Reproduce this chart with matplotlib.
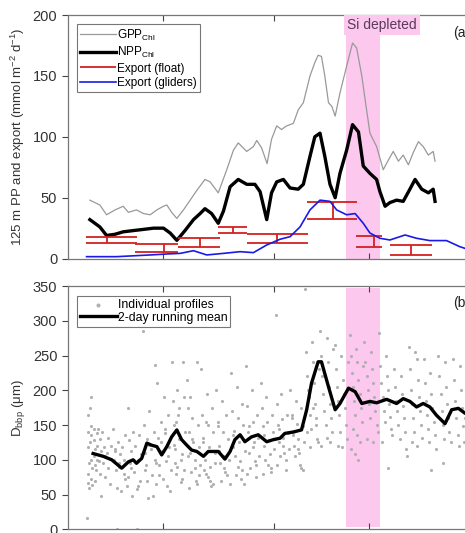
import matplotlib
matplotlib.use('Agg')
import matplotlib.pyplot as plt

plt.rcParams['font.family'] = ['Liberation Sans', 'DejaVu Sans']
plt.rcParams['mathtext.fontset'] = 'custom'
plt.rcParams['mathtext.rm'] = 'Liberation Sans'
plt.rcParams['mathtext.it'] = 'Liberation Sans:italic'

# panel (a): primary production and export, x in days
gpp_day = [6.0, 8.7, 10.5, 12.8, 15.0, 16.4, 18.6, 20.5, 22.3, 24.1, 25.9, 26.8, 28.1, 29.5,
           31.3, 33.1, 34.9, 37.1, 38.5, 40.7, 43.0, 44.8, 46.1, 48.4, 50.2, 51.1, 52.4,
           53.9, 55.1, 56.5, 57.8, 59.2, 61.0, 62.3, 63.7, 65.5, 66.8, 67.7, 68.6, 69.5,
           70.5, 71.4, 72.3, 73.6, 75.4, 77.0, 78.1, 79.5, 80.8, 81.7, 83.5, 85.3, 86.7,
           88.0, 89.4, 90.7, 92.1, 93.4, 94.8, 96.1, 97.5, 98.8, 99.3]
gpp_val = [48, 44, 36, 40, 43, 38, 40, 37, 36, 40, 43, 44, 38, 33,
           40, 48, 56, 65, 63, 54, 73, 89, 95, 88, 92, 97, 91,
           78, 98, 109, 106, 109, 111, 122, 128, 150, 161, 167, 166, 150,
           128, 125, 117, 136, 158, 177, 173, 150, 122, 103, 92, 73, 81,
           88, 80, 85, 77, 87, 96, 92, 85, 88, 80]

npp_day = [6.0, 8.7, 10.5, 12.8, 15.0, 17.7, 20.5, 23.2, 25.9, 27.7, 29.5, 31.7, 34.0,
           35.8, 37.1, 38.9, 40.7, 42.1, 43.9, 46.1, 48.4, 50.6, 52.0, 53.8, 55.1, 56.5,
           58.3, 60.1, 62.3, 63.7, 65.5, 66.8, 68.2, 69.5, 70.9, 72.3, 73.6, 75.4, 77.0,
           78.6, 79.9, 81.7, 83.5, 84.4, 85.8, 87.1, 88.9, 90.7, 92.5, 93.9, 95.7, 97.5,
           98.8, 99.3]
npp_val = [32, 26, 19, 20, 22, 23, 24, 25, 25, 21, 15, 23, 32,
           37, 41, 37, 29, 39, 59, 65, 61, 61, 55, 32, 54, 63,
           65, 58, 57, 61, 84, 100, 103, 84, 61, 50, 70, 89, 110,
           104, 76, 70, 65, 55, 43, 46, 48, 47, 57, 65, 57, 54,
           57, 47]

glider_day = [5.1, 13.2, 22.3, 26.8, 30.4, 34.0, 37.6, 42.1, 46.6, 50.2, 53.8, 57.4, 60.1,
              62.8, 65.5, 68.2, 70.9, 72.7, 75.4, 77.7, 79.9, 81.7, 84.4, 87.1, 91.2, 94.3,
              97.9, 102.4, 106.0, 107.4, 109.6]
glider_val = [1.6, 1.6, 3.0, 3.8, 4.3, 6.5, 3.0, 4.3, 5.7, 4.9, 11.2, 15.9, 18.0,
              26, 40, 48, 47, 40, 36, 37, 29, 21, 16.7, 15.3, 19.4, 16.7,
              14.8, 14.8, 9.8, 8.4, 7.0]

# float export: time window, low and high estimate
float_start = [5.0, 18.2, 29.9, 40.7, 48.4, 64.6, 77.9, 87.1]
float_end = [18.6, 29.9, 41.2, 48.4, 65.0, 78.1, 84.9, 98.4]
float_low = [12.6, 5.7, 9.8, 21.3, 12.6, 32.3, 9.8, 2.9]
float_high = [17.4, 11.7, 17.1, 26.3, 20.2, 46.8, 18.6, 11.2]
float_mid = [10.5, 25.9, 35.8, 44.8, 56.5, 71.8, 82.8, 92.7]

si_start, si_end = 75.1, 84.4

# panel (b): particle size
mean_day = [6.9, 9.6, 11.9, 14.6, 16.4, 17.7, 18.6, 20.0, 21.4, 22.7, 24.1, 25.4, 26.8,
            28.1, 29.5, 30.8, 32.2, 33.5, 34.9, 36.7, 38.0, 40.7, 42.5, 43.9, 45.2, 46.6,
            47.9, 49.7, 51.5, 53.8, 55.6, 57.4, 58.7, 61.0, 63.2, 64.6, 65.9, 67.7, 68.6,
            70.5, 72.3, 73.6, 75.9, 77.7, 79.5, 81.7, 83.5, 86.2, 88.9, 90.7, 92.5, 94.3,
            96.1, 97.9, 99.7, 102.0, 103.8, 105.6, 107.4, 109.6]
mean_val = [109, 105, 100, 88, 97, 100, 95, 102, 124, 121, 119, 107, 119,
            133, 143, 129, 121, 114, 112, 105, 112, 112, 101, 112, 129, 136,
            126, 133, 136, 126, 129, 131, 138, 140, 143, 172, 210, 241, 241,
            205, 172, 181, 203, 198, 181, 184, 182, 187, 181, 188, 184, 176,
            181, 176, 164, 152, 172, 174, 167, 165]

profiles = [
    (5.3, 16), (5.5, 165), (5.6, 140), (5.4, 118), (5.7, 95), (5.5, 80), (5.6, 66), (5.8, 60),
    (6.2, 190), (6.0, 174), (6.4, 148), (6.3, 135), (6.1, 125), (6.5, 110), (6.2, 100),
    (6.6, 88), (6.4, 72), (6.7, 64), (7.0, 145), (7.2, 128), (7.4, 115), (7.1, 105), (7.5, 92),
    (7.3, 70), (7.8, 138), (7.9, 120), (8.0, 100), (7.7, 85),
    (8.3, 145), (8.6, 130), (8.9, 112), (8.5, 98), (8.8, 80), (9.1, 48), (9.4, 140), (9.7, 118),
    (10.0, 105), (9.6, 95), (10.2, 75), (10.5, 110), (10.8, 132), (11.0, 88), (11.3, 65), (11.6, 120),
    (12.2, 145), (12.5, 100), (12.8, 115), (13.0, 85), (13.3, 60), (13.6, 125), (13.9, 95),
    (14.2, 108), (14.5, 55), (14.8, 118), (15.1, 80), (15.4, 72), (15.6, 135), (15.9, 62),
    (15.2, 100), (14.0, 90), (12.9, 112), (13.3, 1),
    (16.2, 175), (16.5, 128), (16.8, 95), (17.1, 112), (17.4, 48), (17.7, 140), (18.0, 82),
    (18.3, 120), (18.6, 58), (18.9, 100), (19.2, 135), (19.5, 70), (19.8, 108), (17.0, 88),
    (16.4, 75), (19.0, 62), (18.7, 1),
    (20.3, 285), (20.6, 150), (20.9, 110), (21.2, 92), (21.5, 130), (21.8, 45), (22.1, 170),
    (22.4, 115), (22.7, 78), (23.0, 48), (23.3, 140), (23.6, 100), (23.9, 65), (22.0, 122),
    (20.8, 85), (23.5, 236), (21.4, 70), (23.8, 95),
    (24.2, 210), (24.5, 132), (24.8, 92), (25.1, 155), (25.4, 112), (25.7, 72), (26.0, 190),
    (26.3, 138), (26.6, 98), (26.9, 62), (27.2, 165), (27.5, 118), (27.8, 85), (26.4, 145),
    (25.2, 125), (27.0, 105), (24.7, 78), (27.6, 55),
    (28.1, 240), (28.4, 185), (28.7, 150), (29.0, 115), (29.3, 80), (29.6, 200), (29.9, 165),
    (30.2, 130), (30.5, 100), (30.8, 72), (31.1, 240), (31.4, 190), (31.7, 140), (31.0, 108),
    (28.6, 122), (29.5, 90), (30.0, 175), (31.5, 85), (29.2, 155), (30.6, 68), (28.9, 95),
    (32.2, 215), (32.5, 175), (32.8, 140), (33.1, 110), (33.4, 82), (33.7, 160), (34.0, 125),
    (34.3, 100), (34.6, 70), (34.9, 240), (35.2, 150), (35.5, 118), (35.8, 92), (33.0, 190),
    (34.4, 88), (35.0, 65), (32.6, 105), (35.6, 78), (33.5, 130), (32.9, 60),
    (36.1, 230), (36.4, 165), (36.7, 132), (37.0, 100), (37.3, 80), (37.6, 195), (37.9, 150),
    (38.2, 118), (38.5, 90), (38.8, 62), (39.1, 175), (39.4, 140), (39.7, 110), (36.9, 85),
    (38.0, 75), (39.3, 65), (36.5, 125), (39.8, 95), (37.4, 155), (38.6, 70),
    (40.2, 200), (40.5, 155), (40.8, 120), (41.1, 95), (41.4, 70), (41.7, 185), (42.0, 140),
    (42.3, 105), (42.6, 82), (42.9, 165), (43.2, 130), (43.5, 100), (43.8, 65), (41.0, 112),
    (42.2, 88), (43.0, 78), (40.6, 148),
    (44.2, 225), (44.5, 170), (44.8, 135), (45.1, 105), (45.4, 78), (45.7, 205), (46.0, 160),
    (46.3, 125), (46.6, 98), (46.9, 72), (47.2, 180), (47.5, 150), (47.8, 112), (45.0, 142),
    (46.1, 90), (47.0, 85), (44.6, 118), (47.6, 65),
    (48.2, 235), (48.5, 178), (48.8, 140), (49.1, 110), (49.4, 88), (49.7, 200), (50.0, 155),
    (50.3, 125), (50.6, 98), (50.9, 75), (51.2, 165), (51.5, 132), (51.8, 105), (49.0, 148),
    (50.2, 118), (51.0, 92), (48.6, 80),
    (52.2, 210), (52.5, 175), (52.8, 148), (53.1, 120), (53.4, 100), (53.7, 190), (54.0, 155),
    (54.3, 128), (54.6, 108), (54.9, 88), (55.2, 165), (55.5, 140), (55.8, 115), (53.0, 135),
    (54.2, 92), (55.0, 82), (52.7, 80),
    (56.2, 308), (56.5, 180), (56.8, 150), (57.1, 125), (57.4, 105), (57.7, 195), (58.0, 158),
    (58.3, 132), (58.6, 110), (58.9, 85), (59.2, 165), (59.5, 138), (59.8, 115), (57.0, 145),
    (58.2, 120), (59.0, 100), (56.6, 92),
    (60.2, 200), (60.5, 165), (60.8, 140), (61.1, 120), (61.4, 105), (61.7, 185), (62.0, 152),
    (62.3, 130), (62.6, 110), (62.9, 92), (63.2, 175), (63.5, 148), (63.8, 125), (61.0, 135),
    (62.2, 115), (63.0, 88), (60.6, 160), (63.6, 85),
    (64.2, 345), (64.5, 255), (64.8, 220), (65.1, 190), (65.4, 165), (65.7, 145), (66.0, 270),
    (66.3, 240), (66.6, 210), (66.9, 180), (67.2, 160), (67.5, 130), (67.8, 230), (65.0, 200),
    (66.2, 175), (67.0, 150), (64.6, 140), (67.6, 125), (65.5, 118),
    (68.2, 285), (68.5, 250), (68.8, 220), (69.1, 195), (69.4, 170), (69.7, 150), (70.0, 275),
    (70.3, 240), (70.6, 205), (70.9, 180), (71.2, 160), (71.5, 140), (71.8, 260), (69.0, 230),
    (70.2, 132), (71.0, 125), (68.6, 120),
    (72.2, 265), (72.5, 230), (72.8, 205), (73.1, 185), (73.4, 165), (73.7, 140), (74.0, 250),
    (74.3, 215), (74.6, 195), (74.9, 175), (75.2, 150), (75.5, 130), (75.8, 240), (73.0, 120),
    (74.2, 118),
    (76.2, 280), (76.5, 250), (76.8, 225), (77.1, 205), (77.4, 185), (77.7, 165), (78.0, 260),
    (78.3, 240), (78.6, 215), (78.9, 195), (79.2, 175), (79.5, 155), (79.8, 235), (77.0, 145),
    (78.2, 135), (79.0, 125), (76.6, 115), (78.5, 100), (77.6, 108),
    (80.2, 270), (80.5, 240), (80.8, 220), (81.1, 200), (81.4, 180), (81.7, 160), (82.0, 255),
    (82.3, 230), (82.6, 210), (82.9, 190), (83.2, 170), (83.5, 150), (83.8, 140), (81.0, 130),
    (82.4, 125),
    (84.2, 282), (84.5, 235), (84.8, 210), (85.1, 190), (85.4, 170), (85.7, 155), (86.0, 250),
    (86.3, 220), (86.6, 200), (86.9, 180), (87.2, 162), (87.5, 145), (87.8, 135), (85.0, 125),
    (86.5, 88),
    (88.2, 230), (88.5, 205), (88.8, 185), (89.1, 170), (89.4, 150), (89.7, 130), (90.0, 220),
    (90.3, 195), (90.6, 178), (90.9, 160), (91.2, 140), (91.5, 115), (91.8, 105),
    (92.2, 262), (92.5, 230), (92.8, 200), (93.1, 180), (93.4, 160), (93.7, 140), (94.0, 255),
    (94.3, 245), (94.6, 215), (94.9, 190), (95.2, 170), (95.5, 150), (95.8, 132), (93.0, 125),
    (94.5, 120),
    (96.2, 245), (96.5, 210), (96.8, 185), (97.1, 165), (97.4, 145), (97.7, 125), (98.0, 225),
    (98.3, 195), (98.6, 175), (98.9, 155), (99.2, 135), (99.5, 115), (98.1, 85),
    (100.2, 250), (100.5, 220), (100.8, 195), (101.1, 170), (101.4, 150), (101.7, 130),
    (102.0, 240), (102.3, 205), (102.6, 180), (102.9, 160), (103.2, 140), (103.5, 125), (101.5, 95),
    (104.2, 245), (104.5, 215), (104.8, 185), (105.1, 160), (105.4, 135), (105.7, 120),
    (106.0, 235), (106.3, 200), (106.6, 175), (106.9, 148), (107.2, 125), (107.5, 160),
]
prof_day = [p[0] for p in profiles]
prof_val = [p[1] for p in profiles]

xticks = [25.8, 55.8, 81.5]

pink = '#fcc8ee'
axcol = '#444444'

fig = plt.figure(figsize=(4.65, 5.33), dpi=100)
ax1 = fig.add_axes([0.1456, 0.5148, 0.891, 0.457])
ax2 = fig.add_axes([0.1456, 0.0069, 0.891, 0.4565])

# --- panel a
ax1.axvspan(si_start, si_end, color=pink, lw=0, zorder=0)
ax1.plot(gpp_day, gpp_val, color='#999999', lw=0.9, label='GPP$_{\\mathrm{Chl}}$')
ax1.plot(npp_day, npp_val, color='black', lw=2.4, label='NPP$_{\\mathrm{Chl}}$')
ax1.hlines(float_low, float_start, float_end, color='#d42020', lw=1.3, label='Export (float)')
ax1.hlines(float_high, float_start, float_end, color='#d42020', lw=1.3)
ax1.vlines(float_mid, float_low, float_high, color='#d42020', lw=1.3)
ax1.plot(glider_day, glider_val, color='#1a1ae6', lw=1.2, label='Export (gliders)')
ax1.text(si_start + 0.4, 192, 'Si depleted', fontsize=10, color='#5a3a5a', va='center',
         bbox=dict(facecolor=pink, edgecolor='none', pad=2.2))
ax1.text(104.3, 185, '(a)', fontsize=10, color='#222222', va='center')
ax1.set_ylim(0, 200)
ax1.set_yticks([0, 50, 100, 150, 200])
ax1.set_ylabel('125 m PP and export (mmol m$^{-2}$ d$^{-1}$)', fontsize=9.5, color='#333333')
ax1.yaxis.set_label_coords(-0.098, 0.5)
leg1 = ax1.legend(loc='upper left', bbox_to_anchor=(0.022, 0.963), borderaxespad=0,
                  fontsize=8.5, handlelength=3.0, handletextpad=0.1, labelspacing=0.2,
                  fancybox=False, edgecolor='#555555', borderpad=0.3)
leg1.get_frame().set_linewidth(0.8)

# --- panel b
ax2.fill_between([si_start, si_end], 3, 347, color=pink, lw=0, zorder=0)
ax2.scatter(prof_day, prof_val, s=5, color='#b0b0b0', lw=0, label='Individual profiles', zorder=2)
ax2.plot(mean_day, mean_val, color='black', lw=2.4, label='2-day running mean', zorder=3)
ax2.text(104.3, 326, '(b)', fontsize=10, color='#222222', va='center')
ax2.set_ylim(0, 350)
ax2.set_yticks([0, 50, 100, 150, 200, 250, 300, 350])
ax2.set_ylabel('D$_{\\mathrm{bbp}}$ (μm)', fontsize=9.5, color='#333333')
ax2.yaxis.set_label_coords(-0.098, 0.5)
leg2 = ax2.legend(loc='upper left', bbox_to_anchor=(0.022, 0.959), borderaxespad=0,
                  fontsize=8.8, handlelength=3.0, handletextpad=0.1, labelspacing=0.05,
                  fancybox=False, edgecolor='#555555', borderpad=0.25, markerscale=1.3)
leg2.get_frame().set_linewidth(0.8)

for ax in (ax1, ax2):
    ax.set_xlim(0, 112)
    ax.set_xticks(xticks)
    ax.set_xticklabels([])
    ax.tick_params(axis='x', direction='in', length=4, top=True, color=axcol)
    ax.tick_params(axis='y', direction='out', length=4, labelsize=10.5, colors='#333333')
    ax.tick_params(axis='y', color=axcol)
    for s in ax.spines.values():
        s.set_color('#777777')
        s.set_linewidth(0.9)

fig.savefig('out.png', dpi=100)
